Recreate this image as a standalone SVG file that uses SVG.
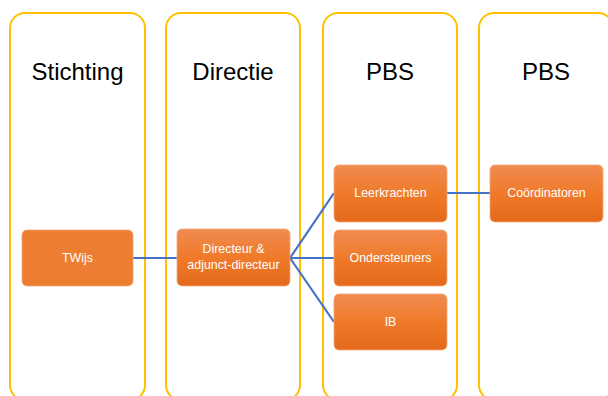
<svg xmlns="http://www.w3.org/2000/svg" width="608" height="396" viewBox="0 0 608 396">
<style>
.lane{fill:#fff;stroke:#FFC000;stroke-width:2}
.title{font-family:"Liberation Sans",Arial,sans-serif;font-size:24px;fill:#000;text-anchor:middle}
.box{stroke:#F3A77A;stroke-width:0.8}
.lbl{font-family:"Liberation Sans",Arial,sans-serif;font-size:12.4px;fill:#fff;text-anchor:middle}
.conn{stroke:#4472C4;stroke-width:2.2;fill:none}
</style>
<defs>
<linearGradient id="og" x1="0" y1="0" x2="0" y2="1">
<stop offset="0" stop-color="#F08B50"/>
<stop offset="0.5" stop-color="#F07A2A"/>
<stop offset="1" stop-color="#E4691B"/>
</linearGradient>
</defs>
<g id="lane-stichting"><rect class="lane" x="10" y="13" width="135" height="387" rx="15"/><text class="title" x="77.5" y="80">Stichting</text></g>
<g id="lane-directie"><rect class="lane" x="166" y="13" width="134" height="387" rx="15"/><text class="title" x="233" y="80">Directie</text></g>
<g id="lane-pbs1"><rect class="lane" x="323" y="13" width="134" height="387" rx="15"/><text class="title" x="390" y="80">PBS</text></g>
<g id="lane-pbs2"><rect class="lane" x="479" y="13" width="134" height="387" rx="15"/><text class="title" x="546" y="80">PBS</text></g>
<g id="connectors">
<line class="conn" x1="133" y1="258" x2="177" y2="258"/>
<line class="conn" x1="290" y1="258" x2="334" y2="193"/>
<line class="conn" x1="290" y1="258" x2="334" y2="258"/>
<line class="conn" x1="290" y1="258" x2="334" y2="322"/>
<line class="conn" x1="447" y1="193" x2="490" y2="193"/>
</g>
<g id="twijs"><rect class="box" x="22" y="230" width="111" height="56" rx="5" fill="#ED7D31"/><text class="lbl" x="77.5" y="262">TWijs</text></g>
<g id="directeur"><rect class="box" x="177" y="229" width="113" height="57" rx="5" fill="url(#og)"/><text class="lbl" x="233.5" y="253">Directeur &amp;</text><text class="lbl" x="233.5" y="269">adjunct-directeur</text></g>
<g id="leerkrachten"><rect class="box" x="334" y="165" width="113" height="57" rx="5" fill="url(#og)"/><text class="lbl" x="390.5" y="197">Leerkrachten</text></g>
<g id="ondersteuners"><rect class="box" x="334" y="230" width="113" height="56" rx="5" fill="url(#og)"/><text class="lbl" x="390.5" y="262">Ondersteuners</text></g>
<g id="ib"><rect class="box" x="334" y="294" width="113" height="56" rx="5" fill="url(#og)"/><text class="lbl" x="390.5" y="326">IB</text></g>
<g id="coordinatoren"><rect class="box" x="490" y="165" width="113" height="57" rx="5" fill="url(#og)"/><text class="lbl" x="546.5" y="197">Coördinatoren</text></g>
</svg>
